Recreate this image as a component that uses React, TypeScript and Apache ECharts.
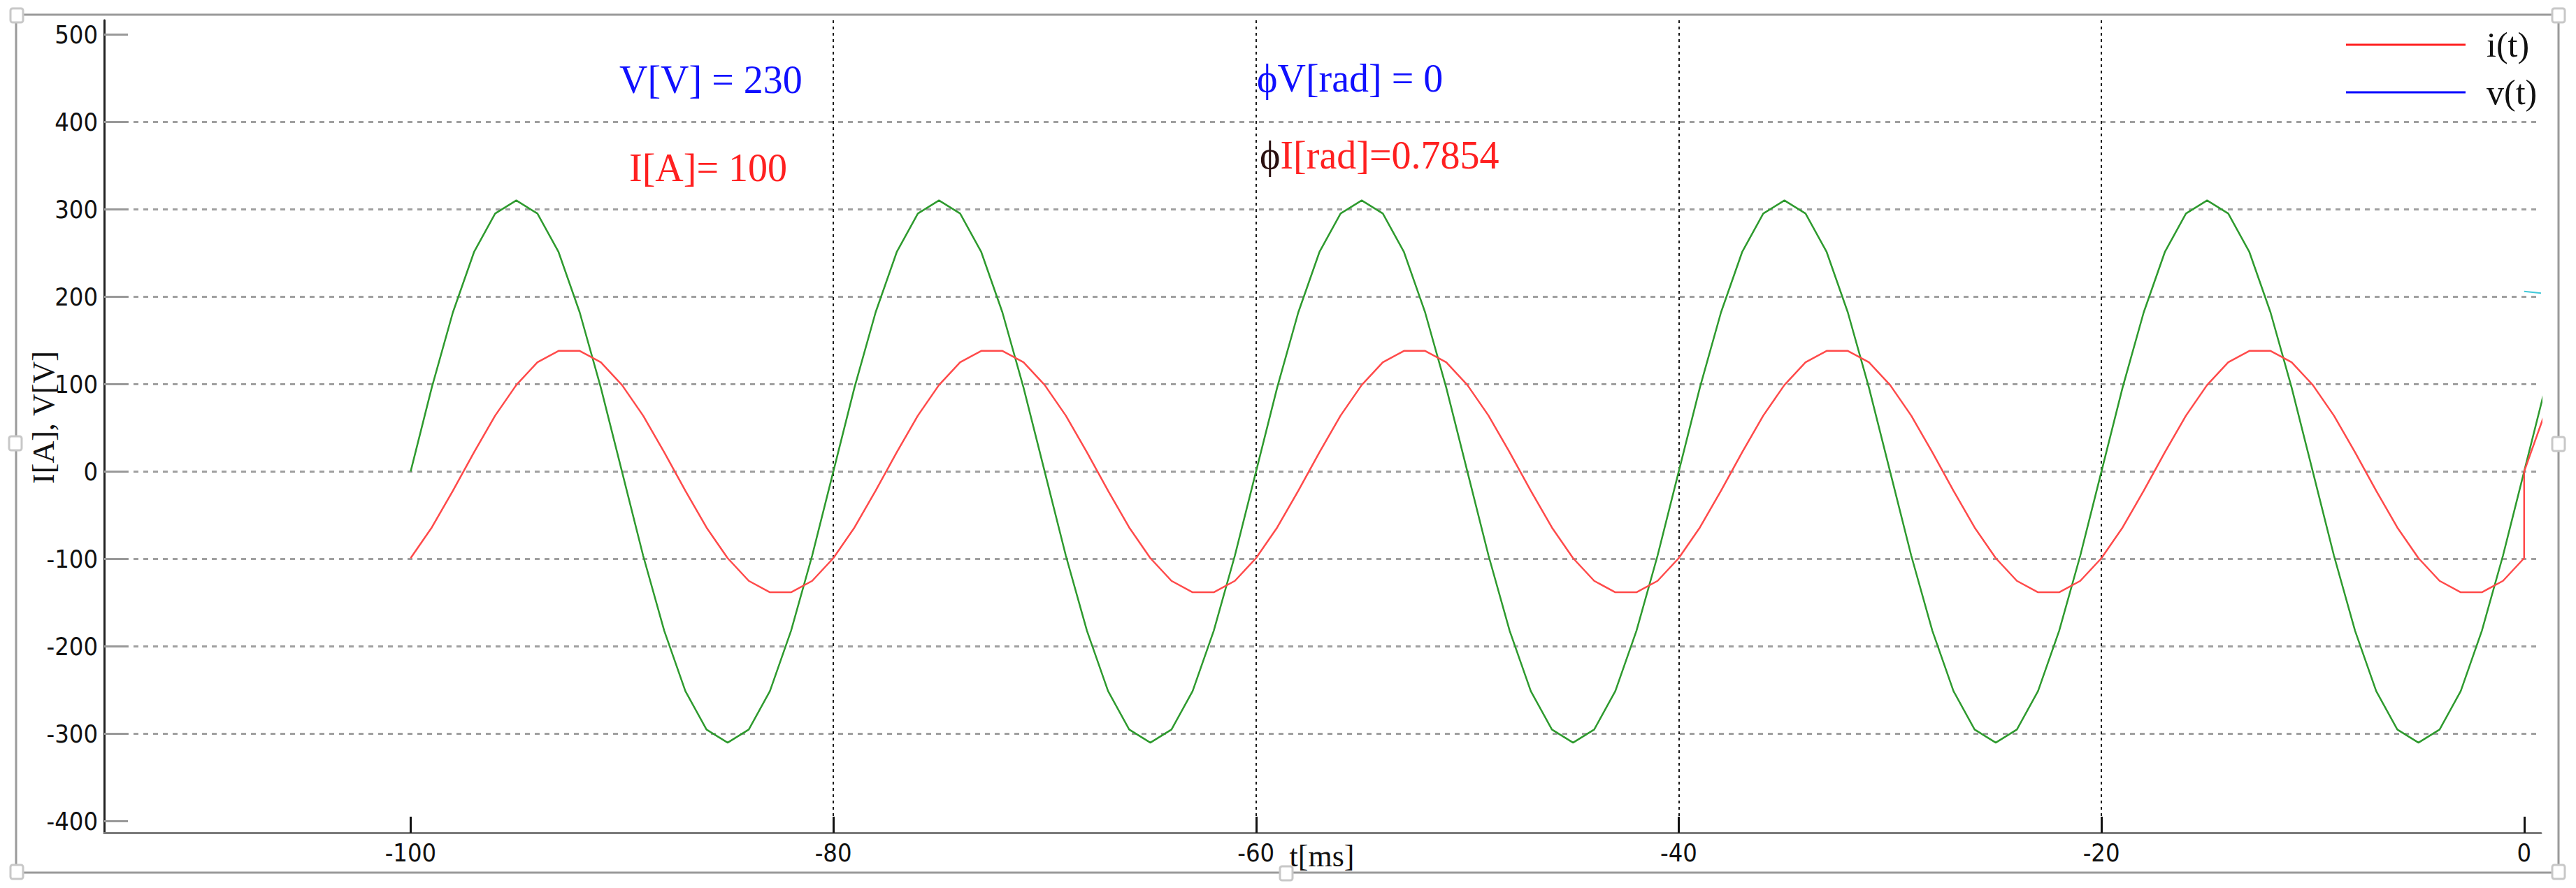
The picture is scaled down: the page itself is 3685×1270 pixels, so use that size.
import React, { useEffect, useRef } from "react";
import * as echarts from "echarts";

// ---- data ----
const tMs = [
  -100, -99, -98, -97, -96, -95, -94, -93, -92, -91, -90, -89, -88, -87, -86, -85, -84, -83, -82, -81,
  -80, -79, -78, -77, -76, -75, -74, -73, -72, -71, -70, -69, -68, -67, -66, -65, -64, -63, -62, -61,
  -60, -59, -58, -57, -56, -55, -54, -53, -52, -51, -50, -49, -48, -47, -46, -45, -44, -43, -42, -41,
  -40, -39, -38, -37, -36, -35, -34, -33, -32, -31, -30, -29, -28, -27, -26, -25, -24, -23, -22, -21,
  -20, -19, -18, -17, -16, -15, -14, -13, -12, -11, -10, -9, -8, -7, -6, -5, -4, -3, -2, -1,
  0,
];
const vValues = [
  0, 96, 182, 251, 295, 310, 295, 251, 182, 96, 0, -96, -182, -251, -295, -310, -295, -251, -182, -96,
  0, 96, 182, 251, 295, 310, 295, 251, 182, 96, 0, -96, -182, -251, -295, -310, -295, -251, -182, -96,
  0, 96, 182, 251, 295, 310, 295, 251, 182, 96, 0, -96, -182, -251, -295, -310, -295, -251, -182, -96,
  0, 96, 182, 251, 295, 310, 295, 251, 182, 96, 0, -96, -182, -251, -295, -310, -295, -251, -182, -96,
  0, 96, 182, 251, 295, 310, 295, 251, 182, 96, 0, -96, -182, -251, -295, -310, -295, -251, -182, -96,
  0,
];
const iValues = [
  -99, -64, -22, 22, 64, 99, 125, 138, 138, 125, 99, 64, 22, -22, -64, -99, -125, -138, -138, -125,
  -99, -64, -22, 22, 64, 99, 125, 138, 138, 125, 99, 64, 22, -22, -64, -99, -125, -138, -138, -125,
  -99, -64, -22, 22, 64, 99, 125, 138, 138, 125, 99, 64, 22, -22, -64, -99, -125, -138, -138, -125,
  -99, -64, -22, 22, 64, 99, 125, 138, 138, 125, 99, 64, 22, -22, -64, -99, -125, -138, -138, -125,
  -99, -64, -22, 22, 64, 99, 125, 138, 138, 125, 99, 64, 22, -22, -64, -99, -125, -138, -138, -125,
  -99,
];
// points after t = 0 (right edge of the plot)
const iTail = [[0, 0], [1, 68]];
const vTail = [[1, 96]];
const cyanMark = [[0, 206], [0.8, 204]];

const xTicks = [-100, -80, -60, -40, -20, 0];
const yTicks = [-400, -300, -200, -100, 0, 100, 200, 300, 400, 500];
const xRange = [-114.5, 0.8];
const yRange = [-413, 516];

const seriesNames = ["i(t)", "v(t)"];
const xTitle = "t[ms]";
const yTitle = "I[A], V[V]";
const annotations = {
  v: "V[V] = 230",
  i: "I[A]= 100",
  phiV: "ϕV[rad] = 0",
  phiI: "I[rad]=0.7854",
};

const SANS = "'Liberation Sans Narrow', 'DejaVu Sans Condensed', 'Liberation Sans', sans-serif";
const SERIF = "'Liberation Serif', 'DejaVu Serif', serif";

export default function App() {
  const ref = useRef<HTMLDivElement>(null);

  useEffect(() => {
    if (!ref.current) return;
    const chart = echarts.init(ref.current, undefined, { renderer: "svg" });

    const iData = tMs.map((t, k) => [t, iValues[k]]).concat(iTail);
    const vData = tMs.map((t, k) => [t, vValues[k]]).concat(vTail);

    const handle = (cx: number, cy: number) => ({
      type: "rect",
      shape: { x: cx - 9, y: cy - 10, width: 18, height: 20, r: 3 },
      style: { fill: "#fff", stroke: "#c8c8c8", lineWidth: 3 },
      z: 10,
    });

    const option: any = {
      animation: false,
      backgroundColor: "#ffffff",
      grid: {
        left: 149,
        top: 29,
        width: 3486,
        height: 1162,
        containLabel: false,
        outerBoundsMode: "none",
      },
      legend: {
        data: [
          { name: seriesNames[0], itemStyle: { color: "#ff2020", borderWidth: 0 } },
          { name: seriesNames[1], itemStyle: { color: "#0000ff", borderWidth: 0 } },
        ],
        orient: "vertical",
        left: 3351,
        top: 34,
        icon: "rect",
        itemWidth: 171,
        itemHeight: 3,
        itemGap: 18,
        selectedMode: false,
        textStyle: {
          fontFamily: SERIF,
          fontSize: 50,
          color: "#111",
          padding: [0, 0, 0, 25],
        },
      },
      xAxis: {
        type: "value",
        min: xRange[0],
        max: xRange[1],
        minInterval: 20,
        maxInterval: 20,
        axisLine: { show: true, onZero: false, lineStyle: { color: "#7a7a7a", width: 3 } },
        axisTick: {
          show: true,
          inside: true,
          length: 23,
          customValues: xTicks,
          lineStyle: { color: "#111", width: 3 },
        },
        axisLabel: {
          customValues: xTicks,
          margin: 10,
          fontFamily: SANS,
          fontSize: 36,
          color: "#111",
          formatter: (v: number) => (v % 20 === 0 ? String(v) : ""),
        },
        splitLine: {
          show: true,
          showMinLine: false,
          showMaxLine: false,
          lineStyle: { color: "#1a1a1a", width: 2, type: [4, 5] },
        },
      },
      yAxis: {
        type: "value",
        min: yRange[0],
        max: yRange[1],
        minInterval: 100,
        maxInterval: 100,
        axisLine: { show: true, onZero: false, lineStyle: { color: "#222", width: 3 } },
        axisTick: {
          show: true,
          inside: true,
          length: 34,
          customValues: yTicks,
          lineStyle: { color: "#999", width: 3 },
        },
        axisLabel: {
          customValues: yTicks,
          margin: 9,
          fontFamily: SANS,
          fontSize: 36,
          color: "#111",
          formatter: (v: number) => (v % 100 === 0 ? String(v) : ""),
        },
        splitLine: {
          show: true,
          showMinLine: false,
          showMaxLine: false,
          lineStyle: { color: "#a0a0a0", width: 3, type: [7, 7] },
        },
      },
      series: [
        {
          name: seriesNames[0],
          type: "line",
          data: iData,
          symbol: "none",
          showSymbol: false,
          clip: true,
          color: "#ff2020",
          lineStyle: { color: "#ff4a4a", width: 2.5 },
          z: 3,
        },
        {
          name: seriesNames[1],
          type: "line",
          data: vData,
          symbol: "none",
          showSymbol: false,
          clip: true,
          color: "#0000ff",
          lineStyle: { color: "#2e9a2e", width: 2.5 },
          z: 2,
        },
        {
          name: "mark",
          type: "line",
          data: cyanMark,
          symbol: "none",
          clip: true,
          lineStyle: { color: "#40c8d8", width: 2 },
          z: 2,
        },
      ],
      graphic: [
        {
          type: "rect",
          shape: { x: 23, y: 21, width: 3637, height: 1227 },
          style: { fill: "none", stroke: "#9a9a9a", lineWidth: 3 },
          z: 9,
        },
        handle(24, 22),
        handle(3660, 22),
        handle(24, 1247),
        handle(3660, 1247),
        handle(22, 634),
        handle(3660, 635),
        handle(1840, 1249),
        {
          type: "text",
          x: 62,
          y: 597,
          rotation: Math.PI / 2,
          style: {
            text: yTitle,
            fontFamily: SERIF,
            fontSize: 44,
            fill: "#111",
            align: "center",
            verticalAlign: "middle",
          },
          z: 11,
        },
        {
          type: "text",
          x: 1891,
          y: 1224,
          style: {
            text: xTitle,
            fontFamily: SERIF,
            fontSize: 44,
            fill: "#111",
            align: "center",
            verticalAlign: "middle",
          },
          z: 11,
        },
        {
          type: "text",
          x: 886,
          y: 114,
          style: {
            text: annotations.v,
            fontFamily: SERIF,
            fontSize: 56,
            fill: "#1010ff",
            align: "left",
            verticalAlign: "middle",
          },
          z: 11,
        },
        {
          type: "text",
          x: 900,
          y: 240,
          style: {
            text: annotations.i,
            fontFamily: SERIF,
            fontSize: 56,
            fill: "#ff2020",
            align: "left",
            verticalAlign: "middle",
          },
          z: 11,
        },
        {
          type: "text",
          x: 1798,
          y: 112,
          style: {
            text: annotations.phiV,
            fontFamily: SERIF,
            fontSize: 56,
            fill: "#1010ff",
            align: "left",
            verticalAlign: "middle",
          },
          z: 11,
        },
        {
          type: "text",
          x: 1802,
          y: 222,
          style: {
            text: "{p|ϕ}{r|" + annotations.phiI + "}",
            fontFamily: SERIF,
            fontSize: 56,
            align: "left",
            verticalAlign: "middle",
            rich: {
              p: { fontFamily: SERIF, fontSize: 56, fill: "#2a1010" },
              r: { fontFamily: SERIF, fontSize: 56, fill: "#ff2020" },
            },
          },
          z: 11,
        },
      ],
    };

    chart.setOption(option);
    return () => chart.dispose();
  }, []);

  return (
    <div
      ref={ref}
      style={{ position: "fixed", left: 0, top: 0, width: 3685, height: 1270, background: "#fff" }}
    />
  );
}
